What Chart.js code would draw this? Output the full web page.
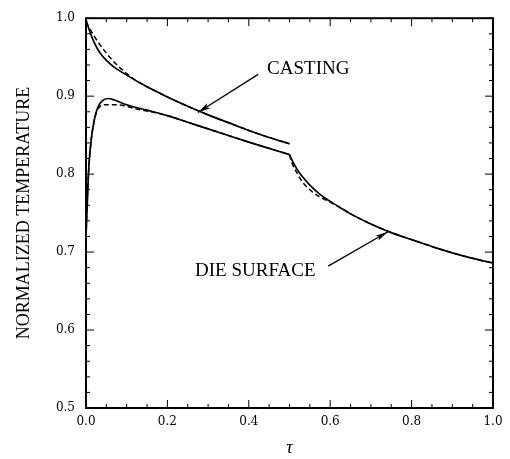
<!DOCTYPE html>
<html>
<head>
<meta charset="utf-8">
<script src="https://cdn.jsdelivr.net/npm/chart.js@4"></script>
<style>
  body { margin: 0; background: #fff; }
  canvas { display: block; }
</style>
</head>
<body>
<canvas id="tempChart" width="510" height="459"></canvas>
<script>
// Casting, solid (model)
const castX = [0, 0.01, 0.02, 0.035, 0.05, 0.07, 0.1, 0.15, 0.2, 0.25, 0.3, 0.35, 0.4, 0.45, 0.5];
const castY = [0.998, 0.982, 0.969, 0.955, 0.946, 0.937, 0.927, 0.912, 0.899, 0.887, 0.876, 0.866, 0.856, 0.847, 0.839];

// Casting, dashed
const castDashX = [0, 0.02, 0.04, 0.06, 0.08, 0.1, 0.12, 0.15, 0.2, 0.25, 0.3, 0.35, 0.4, 0.45, 0.5];
const castDashY = [0.995, 0.977, 0.962, 0.949, 0.938, 0.929, 0.921, 0.912, 0.899, 0.887, 0.876, 0.866, 0.856, 0.847, 0.839];

// Die surface, solid
const dieX = [0, 0.003, 0.007, 0.015, 0.027, 0.04, 0.055, 0.07, 0.1, 0.15, 0.2, 0.25, 0.3, 0.35, 0.4, 0.45, 0.5,
              0.51, 0.52, 0.533, 0.55, 0.575, 0.6, 0.631, 0.65, 0.7, 0.75, 0.8, 0.862, 0.9, 0.95, 1.0];
const dieY = [0.72, 0.76, 0.81, 0.853, 0.883, 0.894, 0.897, 0.895, 0.889, 0.882, 0.875, 0.8665, 0.858, 0.8495, 0.841, 0.833, 0.825,
              0.814, 0.805, 0.796, 0.786, 0.774, 0.765, 0.755, 0.749, 0.736, 0.725, 0.716, 0.705, 0.699, 0.692, 0.686];

// Die surface, dashed
const dieDashX = [0, 0.002, 0.005, 0.012, 0.02, 0.027, 0.035, 0.044, 0.07, 0.1, 0.12, 0.15, 0.2, 0.25, 0.3, 0.35, 0.4, 0.45, 0.5,
                  0.505, 0.52, 0.533, 0.55, 0.567, 0.6, 0.631, 0.65, 0.7, 0.75, 0.8, 0.862, 0.9, 0.95, 1.0];
const dieDashY = [0.72, 0.75, 0.79, 0.84, 0.868, 0.881, 0.887, 0.889, 0.889, 0.887, 0.884, 0.881, 0.875, 0.8665, 0.858, 0.8495, 0.841, 0.833, 0.825,
                  0.816, 0.80, 0.789, 0.780, 0.773, 0.764, 0.755, 0.749, 0.736, 0.725, 0.716, 0.705, 0.699, 0.692, 0.686];

// the casting is removed at tau = 0.5, the die curves have a corner there
const ejectAt = 0.5;

const xTicks = [0, 0.2, 0.4, 0.6, 0.8, 1.0];
const yTicks = [0.5, 0.6, 0.7, 0.8, 0.9, 1.0];

// Labels with arrows, in data units: text at (x, y), arrow from (x1, y1) to (x2, y2)
const notes = [
    { text: 'CASTING', x: 0.445, y: 0.935, x1: 0.423, y1: 0.928, x2: 0.275, y2: 0.879 },
    { text: 'DIE SURFACE', x: 0.268, y: 0.676, x1: 0.595, y1: 0.682, x2: 0.742, y2: 0.726 }
];

function toPoints(xs, ys) {
    return xs.map((x, i) => ({ x, y: ys[i] }));
}

function lineSet(points, dashed) {
    return {
        data: points,
        borderColor: '#000',
        borderWidth: dashed ? 1.5 : 1.7,
        borderDash: dashed ? [5, 3] : [],
        pointRadius: 0,
        fill: false,
        cubicInterpolationMode: 'monotone'
    };
}

// split a curve into two pieces that share the point at tau = ejectAt
function splitSets(xs, ys, dashed) {
    const pts = toPoints(xs, ys);
    const k = xs.indexOf(ejectAt);
    return [lineSet(pts.slice(0, k + 1), dashed), lineSet(pts.slice(k), dashed)];
}

// Frame, inward ticks and labelled arrows
const decorPlugin = {
    id: 'decor',
    afterDatasetsDraw(chart) {
        const { ctx, chartArea: a, scales: { x, y } } = chart;
        ctx.save();
        ctx.strokeStyle = '#000';
        ctx.fillStyle = '#000';

        ctx.lineWidth = 2;
        ctx.strokeRect(a.left, a.top, a.right - a.left, a.bottom - a.top);

        ctx.lineWidth = 1;
        ctx.beginPath();
        for (let i = 0; i <= 20; i++) {
            const px = x.getPixelForValue(i * 0.05);
            const len = i % 4 === 0 ? 8 : 4;
            ctx.moveTo(px, a.bottom); ctx.lineTo(px, a.bottom - len);
            ctx.moveTo(px, a.top); ctx.lineTo(px, a.top + len);
        }
        for (let i = 0; i <= 25; i++) {
            const py = y.getPixelForValue(0.5 + i * 0.02);
            const len = i % 5 === 0 ? 8 : 4;
            ctx.moveTo(a.left, py); ctx.lineTo(a.left + len, py);
            ctx.moveTo(a.right, py); ctx.lineTo(a.right - len, py);
        }
        ctx.stroke();

        ctx.font = '19px "Liberation Serif"';
        ctx.textAlign = 'left';
        ctx.textBaseline = 'middle';
        notes.forEach(n => {
            ctx.fillText(n.text, x.getPixelForValue(n.x), y.getPixelForValue(n.y));
            const x1 = x.getPixelForValue(n.x1), y1 = y.getPixelForValue(n.y1);
            const x2 = x.getPixelForValue(n.x2), y2 = y.getPixelForValue(n.y2);
            const ang = Math.atan2(y2 - y1, x2 - x1);
            ctx.lineWidth = 1.3;
            ctx.beginPath();
            ctx.moveTo(x1, y1);
            ctx.lineTo(x2, y2);
            ctx.stroke();
            ctx.beginPath();
            ctx.moveTo(x2, y2);
            ctx.lineTo(x2 - 13 * Math.cos(ang - 0.22), y2 - 13 * Math.sin(ang - 0.22));
            ctx.lineTo(x2 - 10 * Math.cos(ang), y2 - 10 * Math.sin(ang));
            ctx.lineTo(x2 - 13 * Math.cos(ang + 0.22), y2 - 13 * Math.sin(ang + 0.22));
            ctx.closePath();
            ctx.fill();
        });
        ctx.restore();
    }
};

function initChart() {
    const ctx = document.getElementById('tempChart').getContext('2d');
    new Chart(ctx, {
        type: 'line',
        data: {
            datasets: [
                lineSet(toPoints(castX, castY), false),
                lineSet(toPoints(castDashX, castDashY), true),
                ...splitSets(dieX, dieY, false),
                ...splitSets(dieDashX, dieDashY, true)
            ]
        },
        options: {
            responsive: false,
            animation: false,
            layout: { padding: { top: 10, right: 17, left: 0, bottom: 0 } },
            plugins: {
                legend: { display: false },
                tooltip: { enabled: false }
            },
            scales: {
                x: {
                    type: 'linear',
                    min: 0,
                    max: 1,
                    afterBuildTicks: s => { s.ticks = xTicks.map(v => ({ value: v })); },
                    afterFit: s => { s.height = 51; },
                    grid: { display: false, drawTicks: false },
                    border: { display: false },
                    ticks: {
                        padding: 7,
                        color: '#000',
                        font: { family: '"DejaVu Serif"', size: 12 },
                        callback: v => v.toFixed(1)
                    },
                    title: {
                        display: true,
                        text: 'τ',
                        color: '#000',
                        font: { family: '"Liberation Serif"', size: 18, style: 'italic' },
                        padding: { top: 10, bottom: 0 }
                    }
                },
                y: {
                    type: 'linear',
                    min: 0.5,
                    max: 1,
                    afterBuildTicks: s => { s.ticks = yTicks.map(v => ({ value: v })); },
                    afterFit: s => { s.width = 86; },
                    grid: { display: false, drawTicks: false },
                    border: { display: false },
                    ticks: {
                        padding: 11,
                        color: '#000',
                        font: { family: '"DejaVu Serif"', size: 12 },
                        callback: v => v.toFixed(1)
                    },
                    title: {
                        display: true,
                        text: 'NORMALIZED TEMPERATURE',
                        color: '#000',
                        font: { family: '"Liberation Serif"', size: 18 },
                        padding: { top: 13, bottom: 0 }
                    }
                }
            }
        },
        plugins: [decorPlugin]
    });
}

window.onload = initChart;
</script>
</body>
</html>
